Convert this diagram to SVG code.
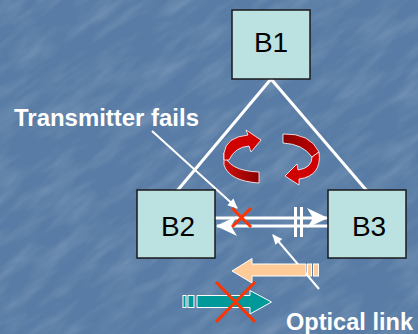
<svg xmlns="http://www.w3.org/2000/svg" width="418" height="334" viewBox="0 0 418 334">
  <defs>
    <style>
      .box { fill: #bce1e1; stroke: #1a1a1a; stroke-width: 1.5; }
      .lbl { font-family: "Liberation Sans", Arial, sans-serif; font-size: 28px; fill: #000; text-anchor: middle; }
      .note { font-family: "Liberation Sans", Arial, sans-serif; font-size: 23px; font-weight: bold; fill: #ffffff; }
      .wire { stroke: #ffffff; stroke-width: 3; fill: none; }
      .link { stroke: #ffffff; stroke-width: 3; fill: none; }
      .ptr { stroke: #ffffff; stroke-width: 2; fill: none; }
      .cross { stroke: #ff3300; stroke-width: 3; stroke-linecap: butt; }
      .ribbon { stroke: #ffffff; stroke-width: 0.8; }
      .blk { stroke: #ffffff; stroke-width: 1; }
    </style>
    <marker id="stealth" markerUnits="userSpaceOnUse" markerWidth="24" markerHeight="24" viewBox="-22 -12 24 24" refX="0" refY="0" orient="auto">
      <path d="M1,0 L-20,-10 L-14,0 L-20,10 Z" fill="#ffffff"/>
    </marker>
    <marker id="tip" markerUnits="userSpaceOnUse" markerWidth="12" markerHeight="12" viewBox="-10 -6 12 12" refX="0" refY="0" orient="auto">
      <path d="M1,0 L-9,-4.5 L-9,4.5 Z" fill="#ffffff"/>
    </marker>
    <linearGradient id="bandL" x1="0" y1="0" x2="1" y2="0">
      <stop offset="0" stop-color="#cc1010"/>
      <stop offset="1" stop-color="#8a0000"/>
    </linearGradient>
    <linearGradient id="bandR" x1="0" y1="0" x2="1" y2="0">
      <stop offset="0" stop-color="#8a0000"/>
      <stop offset="1" stop-color="#c00000"/>
    </linearGradient>
    <filter id="tex" x="0" y="0" width="100%" height="100%">
      <feTurbulence type="fractalNoise" baseFrequency="0.02 0.07" numOctaves="3" seed="7"/>
      <feColorMatrix type="matrix" values="0 0 0 0 1  0 0 0 0 1  0 0 0 0 1  0 0 0 0.3 -0.12"/>
    </filter>
  </defs>

  <rect x="0" y="0" width="418" height="334" fill="#587ca5"/>
  <rect x="-200" y="-200" width="818" height="734" filter="url(#tex)" transform="rotate(-35 209 167)"/>

  <g id="connectors">
    <line class="wire" x1="271" y1="79" x2="177" y2="191"/>
    <line class="wire" x1="271" y1="79" x2="367" y2="191"/>
    <line class="link" x1="215" y1="218" x2="327" y2="218" marker-end="url(#stealth)"/>
    <line class="link" x1="328" y1="226" x2="217" y2="226" marker-end="url(#stealth)"/>
    <line class="link" x1="295.5" y1="207" x2="295.5" y2="237"/>
    <line class="link" x1="301.5" y1="207" x2="301.5" y2="237"/>
    <line class="ptr" x1="152" y1="131" x2="237" y2="208" marker-end="url(#tip)"/>
    <line class="ptr" x1="319" y1="289" x2="273" y2="235" marker-end="url(#tip)"/>
  </g>

  <g id="B1">
    <rect class="box" x="232" y="10" width="78" height="69"/>
    <text class="lbl" x="271" y="52">B1</text>
  </g>
  <g id="B2">
    <rect class="box" x="137" y="190" width="78" height="68"/>
    <text class="lbl" x="178" y="236">B2</text>
  </g>
  <g id="B3">
    <rect class="box" x="328" y="190" width="78" height="68"/>
    <text class="lbl" x="369" y="236">B3</text>
  </g>

  <g id="rotation-left">
    <path class="ribbon" fill="url(#bandL)" d="M224,153 Q228,171 259,172 L259,183 Q229,181 224,165 Z"/>
    <path class="ribbon" fill="#d00000" d="M224,153 Q226,137 248,135 L246,130 L261,140 L251,152 L249,146 Q235,147 229,160 L224,160 Z"/>
  </g>
  <g id="rotation-right">
    <path class="ribbon" fill="url(#bandR)" d="M283,134 Q310,133 319,152 L312,157 Q303,144 283,143 Z"/>
    <path class="ribbon" fill="#d00000" d="M319,152 Q322,176 299,179 L299,185 L285,176 L297,164 L298,170 Q312,168 312,157 Z"/>
  </g>

  <g id="fail-mark">
    <line class="cross" x1="232" y1="208" x2="251" y2="227"/>
    <line class="cross" x1="251" y1="208" x2="232" y2="227"/>
  </g>

  <g id="peach-arrow">
    <polygon class="blk" fill="#ffcc99" points="232,271 252,258.5 252,264 306,264 306,276 252,276 252,283"/>
    <rect class="blk" fill="#ffcc99" x="307.5" y="264" width="4" height="12"/>
    <rect class="blk" fill="#ffcc99" x="313.5" y="264" width="5" height="12"/>
  </g>

  <g id="teal-arrow">
    <rect class="blk" fill="#009999" x="183" y="295.5" width="3" height="12"/>
    <rect class="blk" fill="#009999" x="188" y="295.5" width="6" height="12"/>
    <polygon class="blk" fill="#009999" points="197,295.5 250,295.5 250,290.5 271.5,302 250,314 250,307.5 197,307.5"/>
  </g>

  <g id="link-cross">
    <line class="cross" x1="216" y1="282" x2="255" y2="322"/>
    <line class="cross" x1="255" y1="282" x2="216" y2="322"/>
  </g>

  <text class="note" x="14" y="126" textLength="185" lengthAdjust="spacingAndGlyphs">Transmitter fails</text>
  <text class="note" x="286" y="330" textLength="127" lengthAdjust="spacingAndGlyphs">Optical link</text>
</svg>
